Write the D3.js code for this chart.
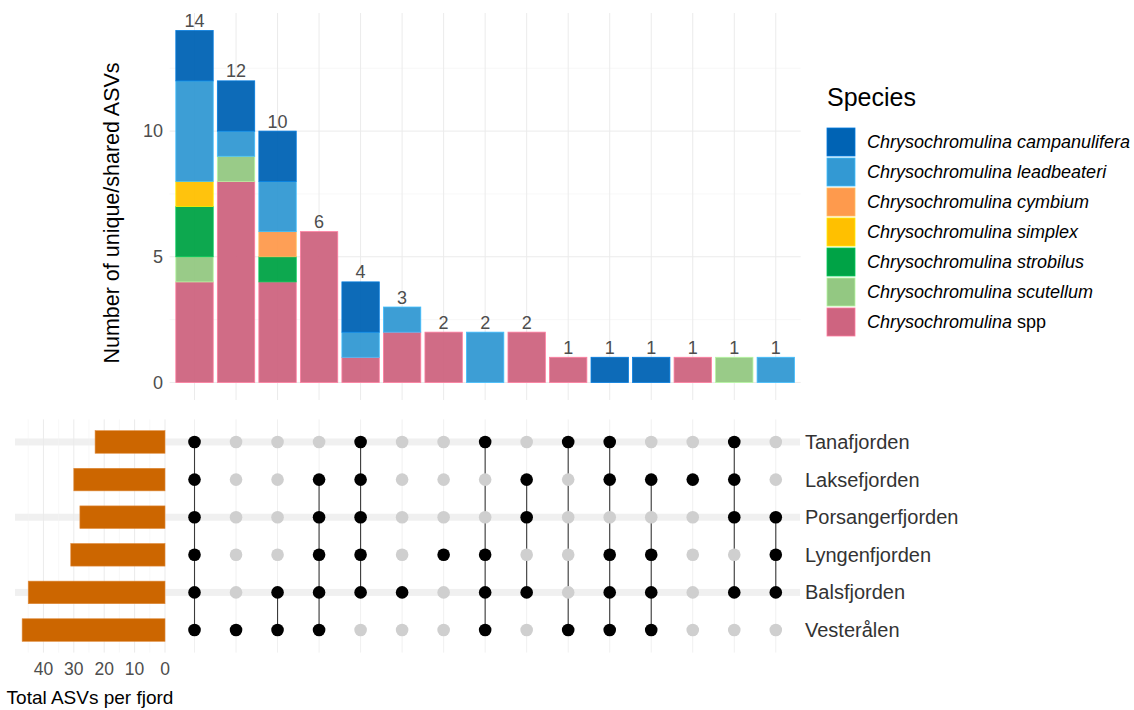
<!DOCTYPE html>
<html>
<head>
<meta charset="utf-8">
<script src="https://cdn.jsdelivr.net/npm/d3@7"></script>
<style>
  body { margin: 0; background: #fff; }
  svg { font-family: "Liberation Sans", Arial, Helvetica, sans-serif; }
</style>
</head>
<body>
<svg id="chart" width="1134" height="710"></svg>
<script>
// species, legend order (top to bottom)
const species = [
  "campanulifera", "leadbeateri", "cymbium", "simplex", "strobilus", "scutellum", "spp"
]
const speciesColours = ["#0063B4", "#3399D3", "#FE9A4D", "#FFC000", "#00A346", "#93C882", "#CE6480"]

const fjords = ["Tanafjorden", "Laksefjorden", "Porsangerfjorden", "Lyngenfjorden", "Balsfjorden", "Vesterålen"]
const fjordTotals = [23, 30, 28, 31, 45, 47]

// membership of each intersection column
const intersections = [
  ["Tanafjorden", "Laksefjorden", "Porsangerfjorden", "Lyngenfjorden", "Balsfjorden", "Vesterålen"],
  ["Vesterålen"],
  ["Balsfjorden", "Vesterålen"],
  ["Laksefjorden", "Porsangerfjorden", "Lyngenfjorden", "Balsfjorden", "Vesterålen"],
  ["Tanafjorden", "Laksefjorden", "Porsangerfjorden", "Lyngenfjorden", "Balsfjorden"],
  ["Balsfjorden"],
  ["Lyngenfjorden"],
  ["Tanafjorden", "Lyngenfjorden", "Balsfjorden", "Vesterålen"],
  ["Laksefjorden", "Porsangerfjorden", "Balsfjorden"],
  ["Tanafjorden", "Vesterålen"],
  ["Tanafjorden", "Laksefjorden", "Lyngenfjorden", "Balsfjorden", "Vesterålen"],
  ["Laksefjorden", "Lyngenfjorden", "Balsfjorden", "Vesterålen"],
  ["Laksefjorden"],
  ["Tanafjorden", "Laksefjorden", "Porsangerfjorden", "Balsfjorden"],
  ["Porsangerfjorden", "Lyngenfjorden", "Balsfjorden"]
]

// ASV counts per intersection, in species order
const campanulifera = [2, 2, 2, 0, 2, 0, 0, 0, 0, 0, 1, 1, 0, 0, 0]
const leadbeateri   = [4, 1, 2, 0, 1, 1, 0, 2, 0, 0, 0, 0, 0, 0, 1]
const cymbium       = [0, 0, 1, 0, 0, 0, 0, 0, 0, 0, 0, 0, 0, 0, 0]
const simplex       = [1, 0, 0, 0, 0, 0, 0, 0, 0, 0, 0, 0, 0, 0, 0]
const strobilus     = [2, 0, 1, 0, 0, 0, 0, 0, 0, 0, 0, 0, 0, 0, 0]
const scutellum     = [1, 1, 0, 0, 0, 0, 0, 0, 0, 0, 0, 0, 0, 1, 0]
const spp           = [4, 8, 4, 6, 1, 2, 2, 0, 2, 1, 0, 0, 1, 0, 0]

const counts = { campanulifera, leadbeateri, cymbium, simplex, strobilus, scutellum, spp }
const colourMap = {}
species.forEach((s, i) => colourMap[s] = speciesColours[i])

const rows = intersections.map((m, i) => {
  let r = { id: i }
  species.forEach(s => r[s] = counts[s][i])
  r.total = d3.sum(species, s => counts[s][i])
  return r
})

const svg = d3.select("#chart")
const gridCol = "#EBEBEB"
const textGrey = "#4D4D4D"

// ---- scales
const x = d3.scalePoint().domain(rows.map(d => d.id)).range([169.6, 800.7]).padding(0.6)
const step = x.step()
const y = d3.scaleLinear().domain([-0.7, 14.7]).range([400, 13])
const yRow = d3.scalePoint().domain(fjords).range([419.4, 652.6]).padding(0.6)
const rowStep = yRow.step()
const xTot = d3.scaleLinear().domain([0, 49.35]).range([165, 15])

// ---- top panel grid
const barG = svg.append("g")
barG.selectAll(".hmin").data([2.5, 7.5, 12.5]).enter().append("line")
  .attr("x1", 169.6).attr("x2", 800.7)
  .attr("y1", d => y(d)).attr("y2", d => y(d))
  .style("stroke", "#F3F3F3").style("stroke-width", 0.6)
barG.selectAll(".hmaj").data([0, 5, 10]).enter().append("line")
  .attr("x1", 169.6).attr("x2", 800.7)
  .attr("y1", d => y(d)).attr("y2", d => y(d))
  .style("stroke", gridCol).style("stroke-width", 1)
barG.selectAll(".vmaj").data(rows).enter().append("line")
  .attr("x1", d => x(d.id)).attr("x2", d => x(d.id))
  .attr("y1", 13).attr("y2", 400)
  .style("stroke", gridCol).style("stroke-width", 1)

// stacked bars, bottom = spp
const stack = d3.stack().keys(species.slice().reverse())
const layers = stack(rows)
const bw = step * 0.9
barG.selectAll(".layer").data(layers).enter().append("g")
  .style("fill", d => colourMap[d.key])
  .style("stroke", d => d3.rgb(colourMap[d.key]).brighter(0.6))
  .style("stroke-width", 0.8)
  .selectAll("rect").data(d => d.filter(p => p[1] > p[0])).enter().append("rect")
    .attr("x", d => x(d.data.id) - bw / 2)
    .attr("width", bw)
    .attr("y", d => y(d[1]))
    .attr("height", d => y(d[0]) - y(d[1]))
    .style("fill-opacity", 0.95)

barG.selectAll(".lab").data(rows).enter().append("text")
  .attr("x", d => x(d.id)).attr("y", d => y(d.total) - 3.5)
  .attr("text-anchor", "middle")
  .style("font-size", "18px").style("fill", textGrey)
  .text(d => d.total)

barG.selectAll(".ytick").data([0, 5, 10]).enter().append("text")
  .attr("x", 163).attr("y", d => y(d))
  .attr("dy", "0.35em").attr("text-anchor", "end")
  .style("font-size", "18px").style("fill", textGrey)
  .text(d => d)

barG.append("text")
  .attr("transform", "translate(119,213) rotate(-90)")
  .attr("text-anchor", "middle")
  .style("font-size", "21.5px").style("fill", "#000")
  .text("Number of unique/shared ASVs")

// ---- matrix + set sizes
const matG = svg.append("g")
matG.selectAll(".stripe").data(fjords.filter((f, i) => i % 2 === 0)).enter().append("rect")
  .attr("x", 15).attr("width", 785)
  .attr("y", d => yRow(d) - 3.5).attr("height", 7)
  .style("fill", "#F0F0F0")

matG.selectAll(".mv").data(rows).enter().append("line")
  .attr("x1", d => x(d.id)).attr("x2", d => x(d.id))
  .attr("y1", 419.4).attr("y2", 652.6)
  .style("stroke", "#F0F0F0").style("stroke-width", 1)

matG.selectAll(".tv").data(d3.range(0, 50, 5)).enter().append("line")
  .attr("x1", d => xTot(d)).attr("x2", d => xTot(d))
  .attr("y1", 419.4).attr("y2", 652.6)
  .style("stroke", d => d % 10 === 0 ? gridCol : "#F3F3F3")
  .style("stroke-width", d => d % 10 === 0 ? 1 : 0.6)

matG.selectAll(".tot").data(fjords).enter().append("rect")
  .attr("x", (d, i) => xTot(fjordTotals[i]))
  .attr("width", (d, i) => xTot(0) - xTot(fjordTotals[i]))
  .attr("y", d => yRow(d) - rowStep * 0.3)
  .attr("height", rowStep * 0.6)
  .style("fill", "#CC6600")
  .style("stroke", "#E08A3A").style("stroke-width", 0.6)

matG.selectAll(".ttick").data([0, 10, 20, 30, 40]).enter().append("text")
  .attr("x", d => xTot(d)).attr("y", 675)
  .attr("text-anchor", "middle")
  .style("font-size", "17.5px").style("fill", textGrey)
  .text(d => d)

matG.append("text")
  .attr("x", 90).attr("y", 704)
  .attr("text-anchor", "middle")
  .style("font-size", "19px").style("fill", "#000")
  .text("Total ASVs per fjord")

// connecting lines
matG.selectAll(".conn").data(rows).enter().append("line")
  .attr("x1", d => x(d.id)).attr("x2", d => x(d.id))
  .attr("y1", d => d3.min(intersections[d.id], f => yRow(f)))
  .attr("y2", d => d3.max(intersections[d.id], f => yRow(f)))
  .style("stroke", "#3A3A3A").style("stroke-width", 1.1)

const dots = []
rows.forEach(r => fjords.forEach(f => dots.push({ id: r.id, fjord: f, on: intersections[r.id].includes(f) })))
matG.selectAll(".dot").data(dots).enter().append("circle")
  .attr("cx", d => x(d.id)).attr("cy", d => yRow(d.fjord))
  .attr("r", 6.3)
  .style("fill", d => d.on ? "#000" : "#CFCFCF")

matG.selectAll(".flab").data(fjords).enter().append("text")
  .attr("x", 805).attr("y", d => yRow(d))
  .attr("dy", "0.35em")
  .style("font-size", "20px").style("fill", "#333")
  .text(d => d)

// ---- legend
const legend = svg.append("g").attr("transform", "translate(827,0)")
legend.append("text")
  .attr("x", 0).attr("y", 106)
  .style("font-size", "25px").style("fill", "#000")
  .text("Species")

const items = legend.selectAll(".item").data(species).enter().append("g")
  .attr("transform", (d, i) => `translate(0,${128 + i * 30})`)
items.append("rect")
  .attr("width", 28).attr("height", 28)
  .style("fill", d => colourMap[d])
  .style("stroke", d => d3.rgb(colourMap[d]).brighter(0.6)).style("stroke-width", 0.8)
const lt = items.append("text")
  .attr("x", 40).attr("y", 14).attr("dy", "0.35em")
  .style("font-size", "18px").style("fill", "#000")
lt.append("tspan").style("font-style", "italic").text(d => d === "spp" ? "Chrysochromulina" : "Chrysochromulina " + d)
lt.filter(d => d === "spp").append("tspan").text(" spp")
</script>
</body>
</html>
